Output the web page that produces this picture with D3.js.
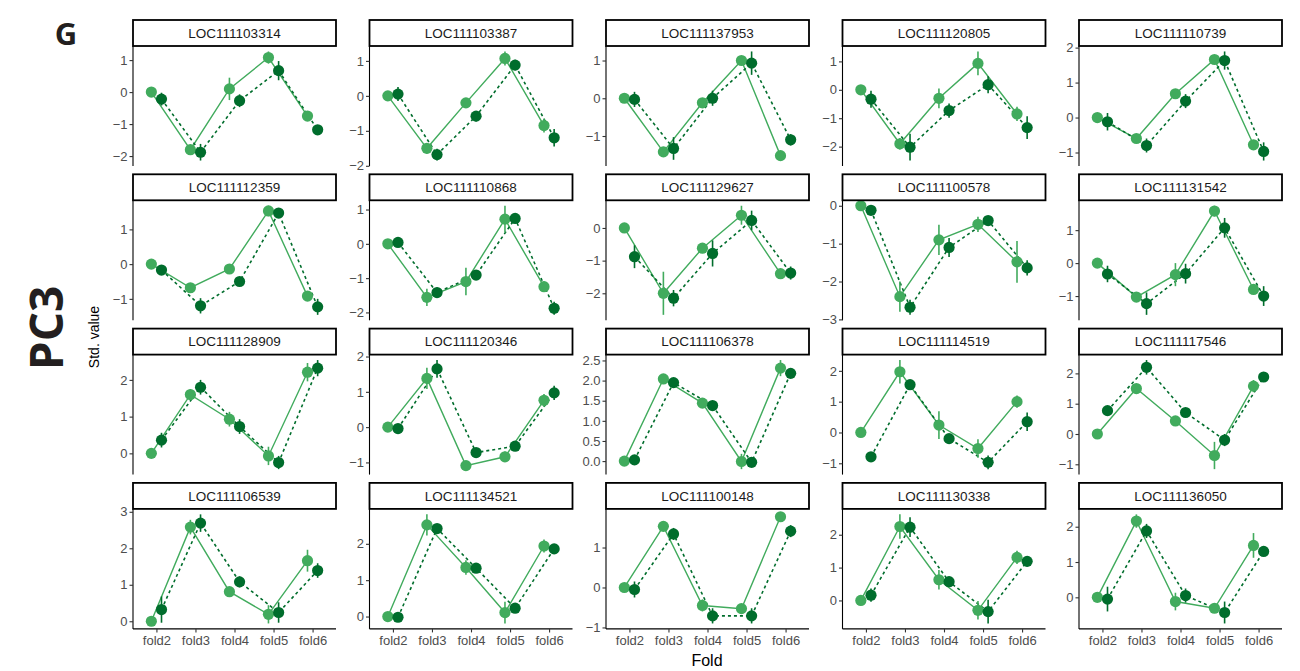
<!doctype html>
<html>
<head>
<meta charset="utf-8">
<title>PC3 fold profiles</title>
<script src="https://d3js.org/d3.v7.min.js"></script>
<style>
  body { margin: 0; background: #fff; }
  svg { display: block; font-family: "Liberation Sans", Arial, sans-serif; }
  .tick-label { fill: #4d4d4d; font-size: 13px; }
  .strip-text { fill: #1a1a1a; font-size: 13.5px; }
</style>
</head>
<body>
<div id="chart"></div>
<script>
// gene panels, row by row
var genes = [
  "LOC111103314", "LOC111103387", "LOC111137953", "LOC111120805", "LOC111110739",
  "LOC111112359", "LOC111110868", "LOC111129627", "LOC111100578", "LOC111131542",
  "LOC111128909", "LOC111120346", "LOC111106378", "LOC111114519", "LOC111117546",
  "LOC111106539", "LOC111134521", "LOC111100148", "LOC111130338", "LOC111136050"
];
var folds = ["fold2", "fold3", "fold4", "fold5", "fold6"];

// light green series (solid line)
var lightValue = [
  [0, -1.80, 0.10, 1.08, -0.75],
  [0, -1.50, -0.20, 1.07, -0.85],
  [0, -1.42, -0.12, 1.00, -1.52],
  [0, -1.90, -0.30, 0.93, -0.85],
  [0, -0.60, 0.68, 1.66, -0.78],
  [0, -0.68, -0.14, 1.53, -0.92],
  [0, -1.56, -1.10, 0.72, -1.25],
  [0, -2.00, -0.62, 0.39, -1.40],
  [0, -2.40, -0.90, -0.49, -1.48],
  [0, -1.03, -0.35, 1.58, -0.80],
  [0, 1.60, 0.93, -0.07, 2.21],
  [0, 1.38, -1.09, -0.84, 0.76],
  [0, 2.04, 1.44, -0.01, 2.31],
  [0, 1.97, 0.24, -0.52, 1.00],
  [0, 1.50, 0.43, -0.71, 1.58],
  [0, 2.58, 0.81, 0.19, 1.66],
  [0, 2.52, 1.35, 0.11, 1.94],
  [0, 1.53, -0.45, -0.53, 1.77],
  [0, 2.25, 0.63, -0.30, 1.31],
  [0, 2.16, -0.12, -0.31, 1.47]
];
var lightErr = [
  [0, 0.08, 0.35, 0.19, 0.10],
  [0, 0.15, 0.10, 0.20, 0.20],
  [0, 0.10, 0.10, 0.10, 0.13],
  [0, 0.20, 0.35, 0.42, 0.25],
  [0, 0.05, 0.12, 0.10, 0.10],
  [0, 0.05, 0.05, 0.15, 0.08],
  [0, 0.25, 0.40, 0.39, 0.15],
  [0, 0.66, 0.15, 0.29, 0.08],
  [0, 0.40, 0.40, 0.20, 0.55],
  [0, 0.15, 0.35, 0.16, 0.12],
  [0, 0.15, 0.20, 0.25, 0.25],
  [0, 0.30, 0.10, 0.15, 0.18],
  [0, 0.05, 0.10, 0.19, 0.20],
  [0, 0.38, 0.45, 0.30, 0.20],
  [0, 0.10, 0.05, 0.45, 0.20],
  [0, 0.20, 0.05, 0.25, 0.30],
  [0, 0.29, 0.20, 0.30, 0.18],
  [0, 0.05, 0.15, 0.08, 0.06],
  [0, 0.37, 0.30, 0.28, 0.20],
  [0, 0.19, 0.25, 0.10, 0.35]
];

// dark green series (dashed line)
var darkValue = [
  [-0.22, -1.88, -0.27, 0.67, -1.18],
  [0.05, -1.68, -0.58, 0.88, -1.20],
  [-0.03, -1.33, 0.00, 0.93, -1.10],
  [-0.33, -2.02, -0.73, 0.18, -1.33],
  [-0.12, -0.80, 0.47, 1.63, -0.97],
  [-0.17, -1.20, -0.50, 1.47, -1.23],
  [0.04, -1.42, -0.91, 0.74, -1.88],
  [-0.88, -2.15, -0.78, 0.23, -1.38],
  [-0.12, -2.68, -1.10, -0.39, -1.64],
  [-0.33, -1.23, -0.32, 1.07, -1.00],
  [0.36, 1.80, 0.73, -0.25, 2.32],
  [-0.04, 1.65, -0.72, -0.54, 0.97],
  [0.03, 1.95, 1.38, -0.03, 2.18],
  [-0.79, 1.55, -0.20, -0.97, 0.35],
  [0.77, 2.20, 0.71, -0.20, 1.88],
  [0.32, 2.69, 1.08, 0.24, 1.39],
  [-0.02, 2.42, 1.33, 0.23, 1.86],
  [-0.05, 1.34, -0.71, -0.71, 1.41],
  [0.16, 2.23, 0.57, -0.34, 1.19],
  [-0.05, 1.88, 0.05, -0.43, 1.30]
];
var darkErr = [
  [0.20, 0.26, 0.20, 0.30, 0.12],
  [0.20, 0.17, 0.15, 0.15, 0.25],
  [0.20, 0.30, 0.20, 0.31, 0.15],
  [0.30, 0.47, 0.25, 0.30, 0.40],
  [0.25, 0.20, 0.20, 0.26, 0.26],
  [0.08, 0.22, 0.08, 0.10, 0.23],
  [0.08, 0.15, 0.10, 0.10, 0.19],
  [0.35, 0.25, 0.40, 0.30, 0.20],
  [0.10, 0.20, 0.25, 0.12, 0.20],
  [0.25, 0.34, 0.30, 0.30, 0.30],
  [0.20, 0.20, 0.20, 0.18, 0.22],
  [0.10, 0.25, 0.12, 0.12, 0.20],
  [0.10, 0.08, 0.10, 0.05, 0.05],
  [0.10, 0.10, 0.10, 0.22, 0.30],
  [0.10, 0.24, 0.08, 0.20, 0.05],
  [0.36, 0.24, 0.15, 0.28, 0.20],
  [0.05, 0.05, 0.10, 0.10, 0.05],
  [0.20, 0.15, 0.19, 0.19, 0.15],
  [0.20, 0.30, 0.15, 0.36, 0.15],
  [0.35, 0.20, 0.20, 0.31, 0.12]
];

// y tick spacing per panel
var tickStep = [
  1, 1, 1, 1, 1,
  1, 1, 1, 1, 1,
  1, 1, 0.5, 1, 1,
  1, 1, 1, 1, 1
];

var width = 1300, height = 671;
var nCol = 5;
var panelLeft = 133, colPitch = 236.5, panelW = 203;
var stripTop = 20, rowPitch = 154.3, stripH = 26, panelH = 120;
var lightCol = "#41ab5d", darkCol = "#006d2c";

var svg = d3.select("#chart").append("svg")
  .attr("width", width)
  .attr("height", height);

var x = d3.scalePoint().domain(folds).range([0, panelW]).padding(0.6);
var dodge = x.step() * 0.13;

function styleAxis(ax) {
  ax.attr("font-size", null).attr("font-family", null);
  ax.selectAll(".tick line").attr("stroke", "#333").attr("stroke-width", 1.1);
  ax.selectAll(".tick text").attr("class", "tick-label").attr("fill", null);
}

genes.forEach(function(gene, i) {
  var col = i % nCol, row = Math.floor(i / nCol);
  var left = panelLeft + col * colPitch;
  var top = stripTop + row * rowPitch;

  var series = [
    { vals: lightValue[i], errs: lightErr[i], color: lightCol, off: -dodge, dash: null, lw: 1.4 },
    { vals: darkValue[i], errs: darkErr[i], color: darkCol, off: dodge, dash: "3,3", lw: 1.6 }
  ];

  var lo = d3.min(series, function(s) { return d3.min(s.vals, function(v, j) { return v - s.errs[j]; }); });
  var hi = d3.max(series, function(s) { return d3.max(s.vals, function(v, j) { return v + s.errs[j]; }); });
  var pad = (hi - lo) * 0.05;
  var y = d3.scaleLinear().domain([lo - pad, hi + pad]).range([panelH, 0]);

  var g = svg.append("g").attr("transform", "translate(" + left + "," + (top + stripH) + ")");

  // strip
  var strip = svg.append("g").attr("transform", "translate(" + left + "," + top + ")");
  strip.append("rect")
    .attr("x", 0).attr("y", 0)
    .attr("width", panelW).attr("height", stripH)
    .attr("fill", "#fff").attr("stroke", "#000").attr("stroke-width", 1.8);
  strip.append("text")
    .attr("class", "strip-text")
    .attr("x", panelW / 2).attr("y", stripH / 2 + 4.8)
    .attr("text-anchor", "middle")
    .text(gene);

  // y axis
  var step = tickStep[i];
  var ticks = d3.range(Math.ceil((lo - pad) / step), Math.floor((hi + pad) / step) + 1)
    .map(function(k) { return k * step; });
  var fmt = step < 1 ? d3.format(".1f") : d3.format("d");
  var yAxis = g.append("g")
    .call(d3.axisLeft(y).tickValues(ticks).tickFormat(fmt).tickSize(3.5).tickPadding(2));
  yAxis.select(".domain").attr("d", "M0,0V" + panelH).attr("stroke", "#000").attr("stroke-width", 1.1);
  styleAxis(yAxis);

  // x axis on the bottom row only
  if (row === 3) {
    var xAxis = g.append("g")
      .attr("transform", "translate(0," + panelH + ")")
      .call(d3.axisBottom(x).tickSize(3.5).tickPadding(3));
    xAxis.select(".domain").attr("d", "M0,0H" + panelW).attr("stroke", "#000").attr("stroke-width", 1.1);
    styleAxis(xAxis);
  }

  var line = d3.line()
    .x(function(d) { return d.px; })
    .y(function(d) { return y(d.v); });

  series.forEach(function(s) {
    s.pts = folds.map(function(f, j) { return { px: x(f) + s.off, v: s.vals[j], e: s.errs[j] }; });
    g.append("path")
      .datum(s.pts)
      .attr("d", line)
      .attr("fill", "none")
      .attr("stroke", s.color)
      .attr("stroke-width", s.lw)
      .attr("stroke-dasharray", s.dash);
  });

  series.forEach(function(s) {
    g.selectAll(null)
      .data(s.pts.filter(function(d) { return d.e > 0; }))
      .enter().append("line")
      .attr("x1", function(d) { return d.px; })
      .attr("x2", function(d) { return d.px; })
      .attr("y1", function(d) { return y(d.v - d.e); })
      .attr("y2", function(d) { return y(d.v + d.e); })
      .attr("stroke", s.color)
      .attr("stroke-width", 1.6);
  });

  series.forEach(function(s) {
    g.selectAll(null)
      .data(s.pts)
      .enter().append("circle")
      .attr("cx", function(d) { return d.px; })
      .attr("cy", function(d) { return y(d.v); })
      .attr("r", 5.6)
      .attr("fill", s.color);
  });
});

// axis titles
svg.append("text")
  .attr("transform", "translate(99,337) rotate(-90)")
  .attr("text-anchor", "middle")
  .attr("font-size", 14)
  .attr("fill", "#000")
  .text("Std. value");

svg.append("text")
  .attr("x", 707).attr("y", 666)
  .attr("text-anchor", "middle")
  .attr("font-size", 16)
  .attr("fill", "#000")
  .text("Fold");

svg.append("text")
  .attr("transform", "translate(63,328) rotate(-90)")
  .attr("text-anchor", "middle")
  .attr("font-family", "'Open Sans', 'DejaVu Sans', sans-serif")
  .attr("font-weight", "bold")
  .attr("font-size", 46)
  .attr("fill", "#231f20")
  .text("PC3");

svg.append("text")
  .attr("x", 66).attr("y", 45)
  .attr("text-anchor", "middle")
  .attr("font-family", "'Open Sans', 'DejaVu Sans', sans-serif")
  .attr("font-weight", "bold")
  .attr("font-size", 31)
  .attr("fill", "#231f20")
  .text("G");
</script>
</body>
</html>
